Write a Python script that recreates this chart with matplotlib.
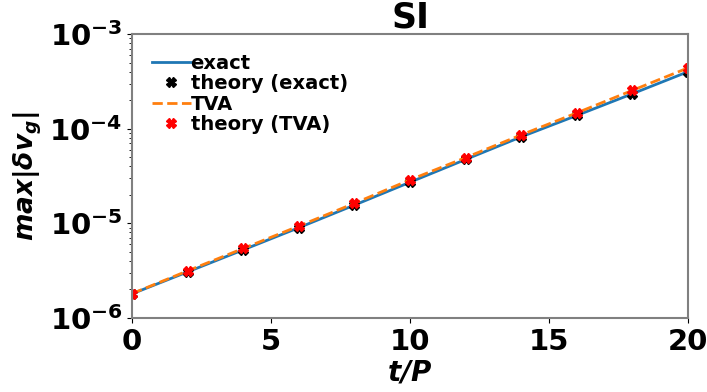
import matplotlib
matplotlib.use("Agg")
import matplotlib.pyplot as plt

t = [0, 2, 4, 6, 8, 10, 12, 14, 16, 18, 20]
exact = [1.8e-6, 3.07e-6, 5.25e-6, 9.0e-6, 1.56e-5, 2.72e-5, 4.73e-5, 8.2e-5, 1.38e-4, 2.34e-4, 4.0e-4]
theory_exact = [1.8e-6, 3.07e-6, 5.25e-6, 9.0e-6, 1.56e-5, 2.72e-5, 4.73e-5, 8.2e-5, 1.38e-4, 2.34e-4, 4.0e-4]
tva = [1.81e-6, 3.15e-6, 5.43e-6, 9.36e-6, 1.63e-5, 2.88e-5, 4.95e-5, 8.6e-5, 1.47e-4, 2.54e-4, 4.39e-4]
theory_tva = [1.81e-6, 3.15e-6, 5.43e-6, 9.36e-6, 1.63e-5, 2.88e-5, 4.95e-5, 8.6e-5, 1.47e-4, 2.54e-4, 4.39e-4]

fig = plt.figure(figsize=(7.07, 3.92), dpi=100)
ax = fig.add_axes([0.187, 0.189, 0.786, 0.724])

ax.semilogy(t, exact, color='#1f77b4', lw=2, label='exact')
ax.semilogy(t, theory_exact, 'X', color='black', ms=7, ls='none', label='theory (exact)')
ax.semilogy(t, tva, '--', color='#ff7f0e', lw=2, label='TVA')
ax.semilogy(t, theory_tva, 'X', color='red', ms=7, ls='none', label='theory (TVA)')

ax.set_xlim(0, 20)
ax.set_ylim(1e-6, 1e-3)
ax.set_xticks([0, 5, 10, 15, 20])
ax.tick_params(axis='both', labelsize=21)
for lab in ax.get_xticklabels() + ax.get_yticklabels():
    lab.set_fontweight('bold')
ax.set_xlabel(r'$\mathbfit{t/P}$', fontsize=20, labelpad=2)
ax.set_ylabel(r'$\mathbfit{max|\delta v_g|}$', fontsize=19)
ax.set_title('SI', fontsize=25, fontweight='bold', pad=4)
for s in ax.spines.values():
    s.set_color('#808080')
    s.set_linewidth(1.5)

leg = ax.legend(loc='upper left', frameon=False, prop={'weight': 'bold', 'size': 14},
                handlelength=2, handletextpad=0.0, labelspacing=0.08, borderaxespad=0.7,
                borderpad=0.3)

fig.savefig('out.png', dpi=100)
